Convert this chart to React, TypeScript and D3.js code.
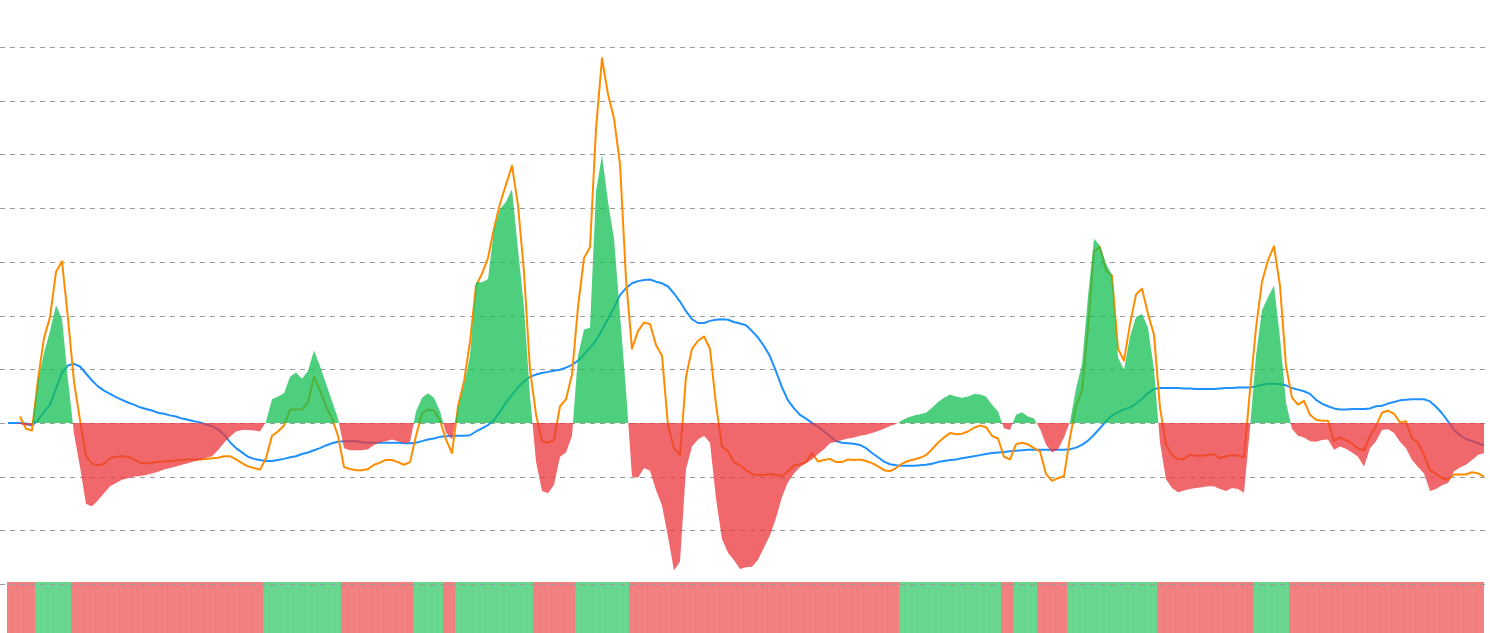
import React from "react";
import * as d3 from "d3";

// Values in grid units (one dashed gridline = 1 unit), one per period
const dif: (number | null)[] = [
  null, null, 0.12, -0.11, -0.14, 0.81, 1.58, 1.97, 2.81, 3.01,
  1.94, 0.77, 0.05, -0.62, -0.76, -0.79, -0.76, -0.66, -0.63, -0.62,
  -0.63, -0.68, -0.74, -0.75, -0.74, -0.73, -0.72, -0.71, -0.70, -0.69,
  -0.68, -0.68, -0.68, -0.67, -0.66, -0.65, -0.62, -0.62, -0.68, -0.75,
  -0.81, -0.84, -0.87, -0.66, -0.24, -0.16, -0.05, 0.25, 0.25, 0.25,
  0.38, 0.86, 0.60, 0.31, 0.08, -0.24, -0.82, -0.86, -0.88, -0.88,
  -0.86, -0.78, -0.74, -0.69, -0.69, -0.73, -0.78, -0.73, -0.24, 0.18,
  0.25, 0.23, 0.05, -0.31, -0.56, 0.31, 0.77, 1.51, 2.55, 2.78,
  3.07, 3.62, 4.08, 4.44, 4.79, 4.05, 2.81, 0.99, 0.16, -0.34,
  -0.37, -0.31, 0.31, 0.44, 0.90, 2.16, 3.07, 3.27, 5.47, 6.79,
  6.12, 5.67, 4.82, 2.68, 1.38, 1.71, 1.87, 1.84, 1.45, 1.25,
  -0.05, -0.47, -0.60, 0.86, 1.38, 1.53, 1.61, 1.38, 0.34, -0.44,
  -0.53, -0.73, -0.79, -0.88, -0.95, -0.97, -0.97, -0.95, -0.97, -0.99,
  -0.90, -0.79, -0.77, -0.73, -0.56, -0.72, -0.69, -0.67, -0.73, -0.73,
  -0.68, -0.69, -0.68, -0.71, -0.75, -0.81, -0.88, -0.90, -0.84, -0.76,
  -0.71, -0.68, -0.65, -0.60, -0.49, -0.37, -0.27, -0.19, -0.21, -0.20,
  -0.16, -0.09, -0.05, -0.08, -0.24, -0.29, -0.63, -0.68, -0.40, -0.37,
  -0.40, -0.47, -0.53, -0.95, -1.08, -1.03, -0.99, -0.27, 0.31, 0.60,
  1.77, 3.20, 3.27, 2.84, 2.74, 1.38, 1.16, 1.84, 2.39, 2.50,
  2.03, 1.64, 0.28, -0.40, -0.60, -0.67, -0.67, -0.60, -0.61, -0.61,
  -0.60, -0.58, -0.66, -0.62, -0.60, -0.61, -0.64, 0.60, 1.77, 2.63,
  3.03, 3.29, 2.55, 1.06, 0.47, 0.34, 0.41, 0.15, 0.06, 0.04,
  0.04, -0.34, -0.27, -0.32, -0.38, -0.48, -0.51, -0.24, -0.06, 0.19,
  0.23, 0.17, 0.01, 0.03, -0.29, -0.37, -0.60, -0.88, -0.95, -1.03,
  -1.06, -0.96, -0.96, -0.96, -0.92, -0.94, -1.00,
];

const dea: number[] = [
  0.00, 0.00, 0.00, -0.01, -0.05, 0.05, 0.21, 0.34, 0.64, 0.93,
  1.07, 1.10, 1.05, 0.92, 0.79, 0.68, 0.60, 0.54, 0.48, 0.43,
  0.38, 0.34, 0.29, 0.26, 0.23, 0.19, 0.17, 0.14, 0.12, 0.08,
  0.06, 0.03, 0.01, -0.03, -0.06, -0.12, -0.22, -0.36, -0.47, -0.55,
  -0.63, -0.67, -0.69, -0.71, -0.71, -0.69, -0.67, -0.64, -0.62, -0.58,
  -0.55, -0.51, -0.47, -0.42, -0.38, -0.35, -0.34, -0.34, -0.34, -0.36,
  -0.37, -0.37, -0.37, -0.37, -0.37, -0.37, -0.38, -0.38, -0.37, -0.34,
  -0.31, -0.29, -0.26, -0.25, -0.24, -0.24, -0.24, -0.23, -0.16, -0.10,
  -0.04, 0.05, 0.21, 0.38, 0.52, 0.66, 0.77, 0.86, 0.90, 0.93,
  0.95, 0.97, 0.99, 1.03, 1.08, 1.16, 1.27, 1.40, 1.53, 1.73,
  1.94, 2.15, 2.38, 2.51, 2.60, 2.64, 2.66, 2.67, 2.63, 2.60,
  2.54, 2.41, 2.26, 2.08, 1.93, 1.86, 1.86, 1.90, 1.92, 1.93,
  1.92, 1.88, 1.85, 1.82, 1.71, 1.59, 1.43, 1.24, 0.96, 0.66,
  0.42, 0.27, 0.15, 0.08, 0.00, -0.07, -0.16, -0.25, -0.34, -0.37,
  -0.38, -0.39, -0.41, -0.47, -0.56, -0.64, -0.72, -0.77, -0.79, -0.80,
  -0.80, -0.80, -0.79, -0.78, -0.76, -0.73, -0.71, -0.69, -0.68, -0.66,
  -0.64, -0.62, -0.60, -0.58, -0.56, -0.55, -0.54, -0.53, -0.52, -0.51,
  -0.50, -0.50, -0.50, -0.50, -0.50, -0.50, -0.50, -0.49, -0.46, -0.41,
  -0.33, -0.22, -0.10, 0.03, 0.14, 0.20, 0.25, 0.29, 0.36, 0.45,
  0.55, 0.63, 0.65, 0.65, 0.65, 0.65, 0.64, 0.64, 0.63, 0.63,
  0.63, 0.63, 0.64, 0.65, 0.65, 0.66, 0.66, 0.66, 0.68, 0.71,
  0.73, 0.73, 0.72, 0.70, 0.65, 0.62, 0.59, 0.54, 0.43, 0.36,
  0.31, 0.27, 0.25, 0.25, 0.26, 0.26, 0.26, 0.27, 0.31, 0.32,
  0.36, 0.39, 0.42, 0.43, 0.44, 0.44, 0.44, 0.40, 0.30, 0.18,
  0.03, -0.13, -0.23, -0.30, -0.34, -0.38, -0.42,
];

const hist: number[] = [
  0, 0, -0.02, -0.05, -0.05, 0.78, 1.30, 1.71, 2.19, 1.94,
  0.80, -0.20, -0.82, -1.51, -1.55, -1.44, -1.31, -1.18, -1.12, -1.06,
  -1.03, -1.00, -0.99, -0.97, -0.94, -0.91, -0.87, -0.84, -0.81, -0.78,
  -0.75, -0.72, -0.69, -0.65, -0.62, -0.51, -0.37, -0.26, -0.16, -0.13,
  -0.13, -0.14, -0.16, 0.02, 0.44, 0.49, 0.55, 0.86, 0.94, 0.82,
  0.97, 1.35, 1.06, 0.73, 0.41, 0.08, -0.47, -0.51, -0.51, -0.51,
  -0.49, -0.41, -0.36, -0.34, -0.31, -0.34, -0.38, -0.36, 0.21, 0.47,
  0.55, 0.47, 0.21, -0.18, -0.31, 0.28, 0.70, 1.25, 2.62, 2.62,
  2.68, 3.59, 3.98, 4.12, 4.35, 3.23, 2.16, 0.50, -0.72, -1.27,
  -1.31, -1.15, -0.63, -0.55, -0.24, 1.25, 1.74, 1.77, 4.31, 4.99,
  4.12, 3.43, 2.03, 0.60, -1.00, -1.02, -0.84, -0.89, -1.25, -1.54,
  -2.12, -2.75, -2.58, -0.86, -0.44, -0.31, -0.24, -0.37, -1.41, -2.16,
  -2.42, -2.56, -2.72, -2.69, -2.68, -2.55, -2.32, -2.09, -1.77, -1.38,
  -1.10, -0.94, -0.82, -0.75, -0.68, -0.58, -0.49, -0.38, -0.35, -0.32,
  -0.29, -0.27, -0.24, -0.22, -0.19, -0.15, -0.11, -0.06, -0.02, 0.05,
  0.10, 0.14, 0.16, 0.19, 0.28, 0.39, 0.47, 0.53, 0.49, 0.47,
  0.49, 0.54, 0.53, 0.49, 0.34, 0.21, -0.10, -0.13, 0.15, 0.20,
  0.12, 0.08, -0.11, -0.40, -0.55, -0.49, -0.27, 0.02, 0.64, 1.09,
  2.36, 3.43, 3.30, 2.97, 2.75, 1.22, 0.99, 1.61, 1.97, 2.03,
  1.77, 0.99, -0.37, -1.05, -1.21, -1.29, -1.26, -1.23, -1.21, -1.20,
  -1.18, -1.18, -1.23, -1.27, -1.21, -1.23, -1.30, -0.10, 1.25, 2.10,
  2.34, 2.56, 1.58, 0.38, -0.11, -0.24, -0.27, -0.34, -0.35, -0.32,
  -0.31, -0.50, -0.44, -0.48, -0.55, -0.63, -0.81, -0.47, -0.34, -0.13,
  -0.12, -0.19, -0.35, -0.47, -0.69, -0.82, -0.94, -1.27, -1.23, -1.16,
  -1.12, -0.90, -0.83, -0.78, -0.69, -0.60, -0.56,
];

const gridTicks: number[] = [-3, -2, -1, 0, 1, 2, 3, 4, 5, 6, 7];

const W = 1490;
const H = 633;

export default function App() {
  const n = hist.length;
  const x = d3.scaleLinear().domain([0, n - 1]).range([8, 1484]);
  const y = d3.scaleLinear().domain([-3, 7]).range([584, 47]);
  const step = x(1) - x(0);
  const y0 = y(0);

  const difLine = d3
    .line<number | null>()
    .defined((d) => d !== null)
    .x((_, i) => x(i))
    .y((d) => y(d as number))(dif) || "";
  const deaLine = d3
    .line<number>()
    .x((_, i) => x(i))
    .y((d) => y(d))(dea) || "";
  const histArea = d3
    .area<number>()
    .x((_, i) => x(i))
    .y0(y0)
    .y1((d) => y(d))(hist) || "";

  return (
    <svg
      width={W}
      height={H}
      style={{ position: "absolute", left: 0, top: 0, background: "#fff" }}
    >
      <defs>
        <clipPath id="above">
          <rect x={0} y={0} width={W} height={y0} />
        </clipPath>
        <clipPath id="below">
          <rect x={0} y={y0} width={W} height={H - y0} />
        </clipPath>
        <clipPath id="band">
          <rect x={7} y={582} width={1484 - 7} height={H - 582} />
        </clipPath>
      </defs>

      <g clipPath="url(#band)">
        {hist.map((v, i) => (
          <rect
            key={i}
            x={x(i) - step / 2}
            y={582}
            width={step + 0.6}
            height={H - 582}
            fill={v > 0 ? "#5fd489" : "#f27676"}
            fillOpacity={0.93}
          />
        ))}
      </g>

      {gridTicks.map((t) => (
        <line
          key={t}
          x1={0}
          x2={1487}
          y1={Math.round(y(t)) + 0.5}
          y2={Math.round(y(t)) + 0.5}
          stroke="#9a9a9a"
          strokeWidth={1}
          strokeDasharray="5,5"
        />
      ))}

      <path d={deaLine} fill="none" stroke="#1e90ff" strokeWidth={2} strokeLinejoin="round" />
      <path d={difLine} fill="none" stroke="#ff8c00" strokeWidth={2} strokeLinejoin="round" />

      <path d={histArea} fill="#13bf52" fillOpacity={0.75} clipPath="url(#above)" />
      <path d={histArea} fill="#eb363a" fillOpacity={0.75} clipPath="url(#below)" />
    </svg>
  );
}
